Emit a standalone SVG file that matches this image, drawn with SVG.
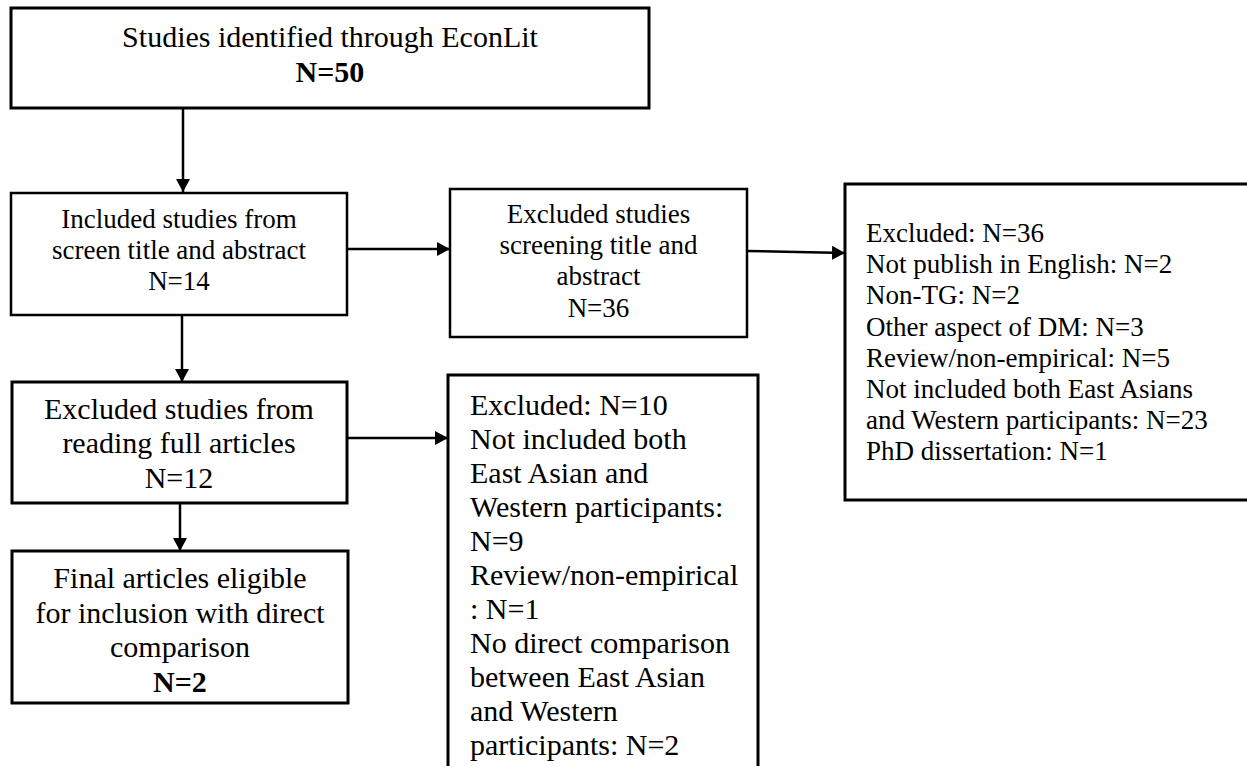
<svg xmlns="http://www.w3.org/2000/svg" width="1247" height="766" viewBox="0 0 1247 766">
  <defs>
    <style>
      .box { fill: #ffffff; stroke: #000000; stroke-width: 3; }
      .thin { stroke-width: 2.5; }
      .t { font-family: "Liberation Serif", "Times New Roman", serif; fill: #000000; }
      .c { text-anchor: middle; }
      .s30 { font-size: 30px; }
      .s27 { font-size: 27px; }
      .b { font-weight: bold; }
      .conn { stroke: #000000; stroke-width: 2.5; fill: none; marker-end: url(#arrow); }
    </style>
    <marker id="arrow" markerUnits="userSpaceOnUse" markerWidth="14" markerHeight="14" refX="13" refY="7" orient="auto">
      <path d="M0,0 L13,7 L0,14 Z" fill="#000000"/>
    </marker>
  </defs>

  <rect width="1247" height="766" fill="#ffffff"/>

  <!-- connectors -->
  <g id="connectors">
    <line class="conn" x1="183" y1="108" x2="183" y2="192"/>
    <line class="conn" x1="347" y1="249" x2="450" y2="249"/>
    <line class="conn" x1="747" y1="251" x2="845" y2="253"/>
    <line class="conn" x1="182" y1="315" x2="182" y2="382"/>
    <line class="conn" x1="347" y1="438" x2="448" y2="438"/>
    <line class="conn" x1="180" y1="503" x2="180" y2="551"/>
  </g>

  <!-- identification -->
  <g id="identified">
    <rect class="box" x="11" y="8" width="638" height="100"/>
    <text class="t s30 c" x="330" y="47">Studies identified through EconLit</text>
    <text class="t s30 c b" x="330" y="82">N=50</text>
  </g>

  <!-- screening: included -->
  <g id="included-screen">
    <rect class="box thin" x="11" y="193" width="336" height="122"/>
    <text class="t s27 c" x="179" y="228">Included studies from</text>
    <text class="t s27 c" x="179" y="259">screen title and abstract</text>
    <text class="t s27 c" x="179" y="290">N=14</text>
  </g>

  <!-- screening: excluded -->
  <g id="excluded-screen">
    <rect class="box thin" x="450" y="189" width="297" height="148"/>
    <text class="t s27 c" x="598.5" y="223">Excluded studies</text>
    <text class="t s27 c" x="598.5" y="254">screening title and</text>
    <text class="t s27 c" x="598.5" y="285">abstract</text>
    <text class="t s27 c" x="598.5" y="317">N=36</text>
  </g>

  <!-- screening exclusion reasons -->
  <g id="excluded-screen-reasons">
    <rect class="box" x="845" y="184" width="420" height="316"/>
    <text class="t s27" x="866" y="242">Excluded: N=36</text>
    <text class="t s27" x="866" y="273">Not publish in English: N=2</text>
    <text class="t s27" x="866" y="304">Non-TG: N=2</text>
    <text class="t s27" x="866" y="336">Other aspect of DM: N=3</text>
    <text class="t s27" x="866" y="367">Review/non-empirical: N=5</text>
    <text class="t s27" x="866" y="398">Not included both East Asians</text>
    <text class="t s27" x="866" y="429">and Western participants: N=23</text>
    <text class="t s27" x="866" y="460">PhD dissertation: N=1</text>
  </g>

  <!-- full-text stage -->
  <g id="excluded-fulltext">
    <rect class="box" x="12" y="382" width="335" height="121"/>
    <text class="t s30 c" x="179" y="419">Excluded studies from</text>
    <text class="t s30 c" x="179" y="453">reading full articles</text>
    <text class="t s30 c" x="179" y="488">N=12</text>
  </g>

  <!-- full-text exclusion reasons -->
  <g id="excluded-fulltext-reasons">
    <rect class="box" x="448" y="375" width="310" height="420"/>
    <text class="t s30" x="470" y="415">Excluded: N=10</text>
    <text class="t s30" x="470" y="449">Not included both</text>
    <text class="t s30" x="470" y="483">East Asian and</text>
    <text class="t s30" x="470" y="517">Western participants:</text>
    <text class="t s30" x="470" y="551">N=9</text>
    <text class="t s30" x="470" y="585">Review/non-empirical</text>
    <text class="t s30" x="470" y="619">: N=1</text>
    <text class="t s30" x="470" y="653">No direct comparison</text>
    <text class="t s30" x="470" y="687">between East Asian</text>
    <text class="t s30" x="470" y="721">and Western</text>
    <text class="t s30" x="470" y="755">participants: N=2</text>
  </g>

  <!-- final inclusion -->
  <g id="final">
    <rect class="box" x="12" y="551" width="336" height="152"/>
    <text class="t s30 c" x="180" y="588">Final articles eligible</text>
    <text class="t s30 c" x="180" y="623">for inclusion with direct</text>
    <text class="t s30 c" x="180" y="657">comparison</text>
    <text class="t s30 c b" x="180" y="692">N=2</text>
  </g>
</svg>
